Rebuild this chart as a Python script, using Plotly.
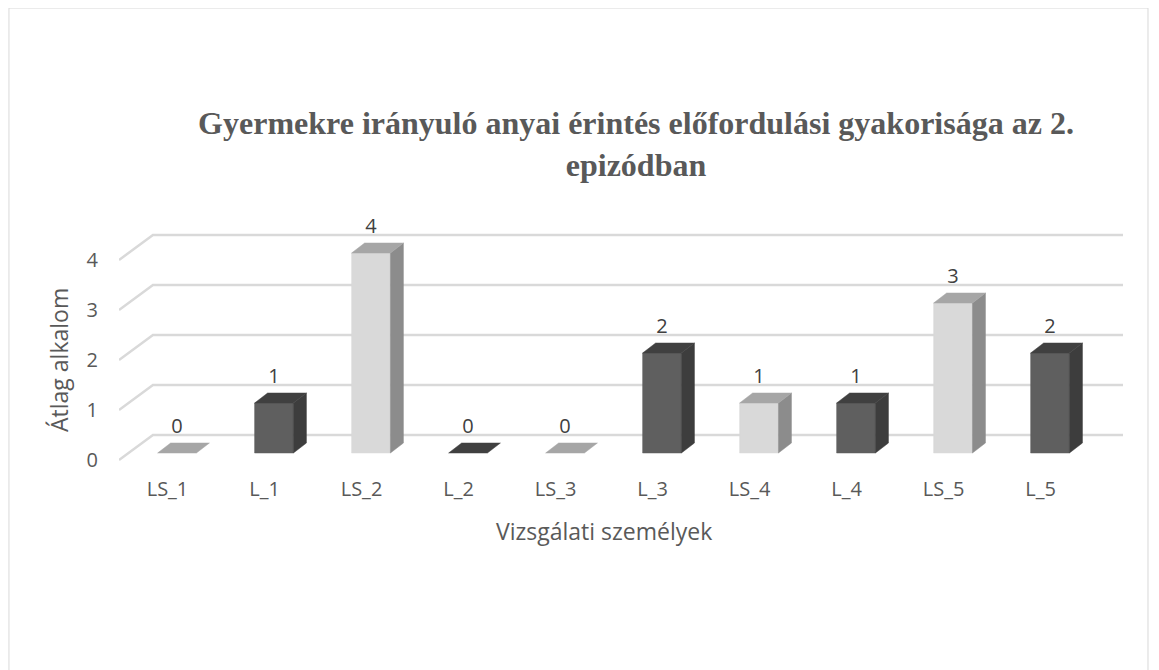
import plotly.graph_objects as go

# data
categories = ["LS_1", "L_1", "LS_2", "L_2", "LS_3", "L_3", "LS_4", "L_4", "LS_5", "L_5"]
values = [0, 1, 4, 0, 0, 2, 1, 1, 3, 2]
y_ticks = [0, 1, 2, 3, 4]

TITLE = "Gyermekre irányuló anyai érintés előfordulási gyakorisága az 2.<br>epizódban"
X_TITLE = "Vizsgálati személyek"
Y_TITLE = "Átlag alkalom"

_SANS = "Open Sans, Noto Sans, sans-serif"

# the page body has an 8px margin, so the figure is a bit smaller
W, H = 1151, 662

# fake-3d geometry (in axis units)
DEPTH_X, DEPTH_Y = 0.35, 0.5      # full depth of the chart box
FRONT_X, FRONT_Y = 0.098, 0.14    # bar front plane offset
BAR_W = 0.40
BAR_DX, BAR_DY = 0.134, 0.2       # bar depth

palette = {
    "LS": dict(front="#d9d9d9", side="#8c8c8c", top="#a6a6a6"),
    "L": dict(front="#5f5f5f", side="#3d3d3d", top="#404040"),
}

fig = go.Figure()

# back wall gridlines + left diagonal
gx, gy = [], []
for t in y_ticks:
    gx += [-0.5, -0.5 + DEPTH_X, len(categories) - 0.5 + DEPTH_X, None]
    gy += [t, t + DEPTH_Y, t + DEPTH_Y, None]
fig.add_trace(go.Scatter(x=gx, y=gy, mode="lines", hoverinfo="skip",
                         line=dict(color="#d9d9d9", width=2.5), showlegend=False))

# bars, grouped by colour
for grp in ["LS", "L"]:
    faces = {"front": ([], []), "side": ([], []), "top": ([], [])}
    for i, (cat, v) in enumerate(zip(categories, values)):
        if not cat.startswith(grp + "_"):
            continue
        x0 = i + FRONT_X - BAR_W / 2
        x1 = i + FRONT_X + BAR_W / 2
        yb = FRONT_Y
        yt = FRONT_Y + v
        if v > 0:
            fx, fy = faces["front"]
            fx += [x0, x1, x1, x0, x0, None]
            fy += [yb, yb, yt, yt, yb, None]
            sx, sy = faces["side"]
            sx += [x1, x1 + BAR_DX, x1 + BAR_DX, x1, x1, None]
            sy += [yb, yb + BAR_DY, yt + BAR_DY, yt, yb, None]
        tx, ty = faces["top"]
        tx += [x0, x1, x1 + BAR_DX, x0 + BAR_DX, x0, None]
        ty += [yt, yt, yt + BAR_DY, yt + BAR_DY, yt, None]
    for face in ["front", "side", "top"]:
        xs, ys = faces[face]
        if not xs:
            continue
        fig.add_trace(go.Scatter(
            x=xs, y=ys, mode="lines", fill="toself",
            fillcolor=palette[grp][face],
            line=dict(color=palette[grp][face], width=0.5),
            hoverinfo="skip", showlegend=False,
        ))

# value labels
fig.add_trace(go.Scatter(
    x=[i + FRONT_X for i in range(len(categories))],
    y=[FRONT_Y + v + 0.5 for v in values],
    text=[str(v) for v in values],
    mode="text", cliponaxis=False,
    textfont=dict(family=_SANS, size=20, color="#404040"),
    hoverinfo="skip", showlegend=False,
))

fig.add_annotation(
    x=(len(categories) - 1) / 2, y=-0.277, xref="x", yref="paper",
    xanchor="center", yanchor="middle",
    text=X_TITLE, showarrow=False,
    font=dict(family=_SANS, size=23, color="#595959"),
)
fig.add_annotation(
    x=-0.0598, y=2, xref="paper", yref="y",
    xanchor="center", yanchor="middle",
    text=Y_TITLE, showarrow=False, textangle=-90,
    font=dict(family=_SANS, size=23, color="#595959"),
)

# chart frame
fig.add_shape(type="rect", xref="paper", yref="paper",
              x0=-0.1096, x1=1.0249, y0=-0.896, y1=1.904,
              line=dict(color="#d9d9d9", width=1))

fig.update_layout(
    title=dict(text=f"<b>{TITLE}</b>", x=(636 - 8) / W, xanchor="center",
               y=1 - 126 / H, yanchor="middle",
               font=dict(family="Liberation Serif, Times New Roman, serif",
                         size=32, color="#595959")),
    width=W, height=H,
    margin=dict(l=111, r=36, t=217, b=205),
    plot_bgcolor="white", paper_bgcolor="white",
    xaxis=dict(range=[-0.5, len(categories) - 0.5 + DEPTH_X],
               tickvals=list(range(len(categories))), ticktext=categories,
               showgrid=False, zeroline=False, showline=False,
               ticklabelstandoff=10,
               tickfont=dict(family=_SANS, size=20, color="#595959")),
    yaxis=dict(range=[-0.1, 4.7], tickvals=y_ticks,
               showgrid=False, zeroline=False, showline=False,
               ticklabelstandoff=20,
               tickfont=dict(family=_SANS, size=20, color="#595959")),
)

fig.write_html("out.html")
